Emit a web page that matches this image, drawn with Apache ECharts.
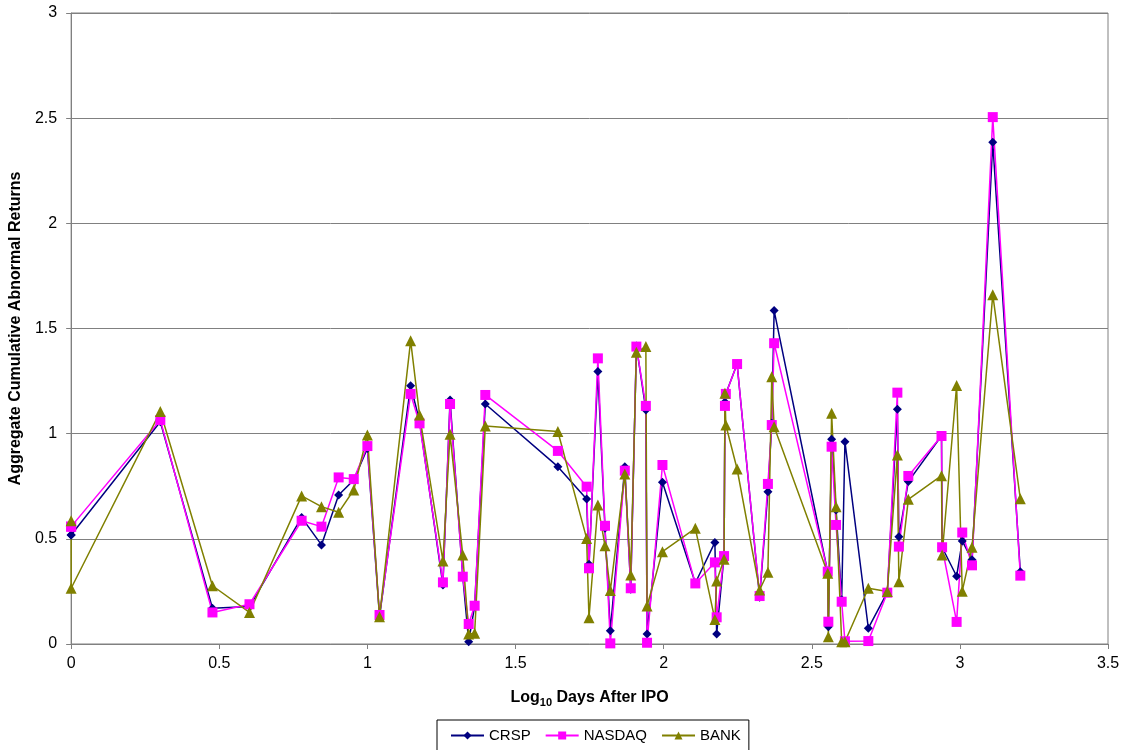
<!DOCTYPE html>
<html>
<head>
<meta charset="utf-8">
<script src="https://cdn.jsdelivr.net/npm/echarts@6/dist/echarts.min.js"></script>
<style>
html,body{margin:0;padding:0;background:#fff;}
#chart{width:1129px;height:750px;}
</style>
</head>
<body>
<div id="chart"></div>
<script>
// Log10 days after IPO (shared x positions)
const logDays = [0, 0, 0.301, 0.477, 0.602, 0.778, 0.845, 0.903, 0.954, 1, 1.041, 1.146, 1.176, 1.255, 1.279, 1.322, 1.342, 1.362, 1.398,
  1.643, 1.740, 1.748, 1.778, 1.802, 1.820, 1.869, 1.889, 1.908, 1.940, 1.944, 1.996, 2.107, 2.173, 2.179, 2.204, 2.207, 2.210, 2.248,
  2.324, 2.352, 2.365, 2.373, 2.554, 2.556, 2.567, 2.582, 2.601, 2.612, 2.691, 2.755, 2.789, 2.794, 2.826, 2.938, 2.940, 2.989, 3.008,
  3.041, 3.111, 3.204];
const crsp = [0.518, 0.518, 1.057, 0.17, 0.178, 0.602, 0.471, 0.708, 0.78, 0.93, 0.13, 1.228, 1.06, 0.28, 1.16, 0.32, 0.011, 0.18, 1.141,
  0.843, 0.689, 0.379, 1.295, 0.55, 0.063, 0.843, 0.26, 1.417, 1.113, 0.048, 0.769, 0.29, 0.483, 0.048, 0.42, 1.15, 1.19, 1.331,
  0.222, 0.724, 1.05, 1.585, 0.34, 0.082, 0.973, 0.637, 0.21, 0.962, 0.075, 0.245, 1.116, 0.51, 0.772, 0.99, 0.46, 0.322, 0.49,
  0.40, 2.385, 0.344];
const nasdaq = [0.558, 0.558, 1.065, 0.15, 0.189, 0.586, 0.558, 0.792, 0.784, 0.941, 0.138, 1.189, 1.049, 0.293, 1.141, 0.32, 0.095, 0.182, 1.184,
  0.918, 0.748, 0.36, 1.358, 0.562, 0.003, 0.824, 0.265, 1.414, 1.132, 0.006, 0.851, 0.288, 0.388, 0.127, 0.418, 1.132, 1.189, 1.331,
  0.228, 0.761, 1.041, 1.43, 0.344, 0.106, 0.938, 0.566, 0.201, 0.013, 0.014, 0.244, 1.195, 0.463, 0.799, 0.989, 0.46, 0.105, 0.53,
  0.374, 2.505, 0.325];
const bank = [0.586, 0.265, 1.105, 0.277, 0.15, 0.704, 0.653, 0.626, 0.732, 0.994, 0.13, 1.442, 1.089, 0.395, 0.997, 0.423, 0.048, 0.051, 1.036,
  1.01, 0.502, 0.125, 0.661, 0.467, 0.254, 0.808, 0.328, 1.387, 1.414, 0.181, 0.439, 0.55, 0.117, 0.30, 0.403, 1.192, 1.041, 0.832,
  0.257, 0.341, 1.271, 1.033, 0.336, 0.035, 1.097, 0.653, 0.011, 0.011, 0.265, 0.25, 0.899, 0.296, 0.688, 0.80, 0.423, 1.229, 0.251,
  0.46, 1.661, 0.69];
const seriesNames = ['CRSP', 'NASDAQ', 'BANK'];
const xTicks = ['0', '0.5', '1', '1.5', '2', '2.5', '3', '3.5'];

const pairs = vals => logDays.map((x, i) => [x, vals[i]]);
const FONT = '"Liberation Sans", Arial, sans-serif';

const chart = echarts.init(document.getElementById('chart'));
chart.setOption({
  animation: false,
  backgroundColor: '#ffffff',
  textStyle: {fontFamily: FONT},
  grid: {left: 71, right: 21, top: 13, bottom: 106, show: true, borderColor: '#808080', borderWidth: 1, backgroundColor: 'transparent'},
  legend: {
    data: seriesNames,
    left: 437, top: 720,
    padding: [8, 8, 10, 13],
    borderColor: '#000', borderWidth: 1,
    itemWidth: 33, itemHeight: 10, itemGap: 14,
    textStyle: {fontSize: 15, color: '#000', fontFamily: FONT}
  },
  xAxis: {
    type: 'value', min: 0, max: 3.5, interval: 0.5,
    name: '{a|Log}{s|10}{a| Days After IPO}',
    nameLocation: 'middle', nameGap: 44,
    nameTextStyle: {
      rich: {
        a: {fontSize: 16, fontWeight: 'bold', color: '#000', fontFamily: FONT, lineHeight: 20},
        s: {fontSize: 11, fontWeight: 'bold', color: '#000', fontFamily: FONT, verticalAlign: 'bottom', lineHeight: 11}
      }
    },
    axisLine: {show: true, lineStyle: {color: '#808080'}},
    axisTick: {show: true, length: 5, lineStyle: {color: '#808080'}},
    axisLabel: {color: '#000', fontSize: 16, margin: 12, formatter: (v) => xTicks[Math.round(v / 0.5)]},
    splitLine: {show: false}
  },
  yAxis: {
    type: 'value', min: 0, max: 3, interval: 0.5,
    name: 'Aggregate Cumulative Abnormal Returns',
    nameLocation: 'middle', nameGap: 44,
    nameTextStyle: {fontSize: 16, fontWeight: 'bold', color: '#000', fontFamily: FONT},
    axisLine: {show: true, lineStyle: {color: '#808080'}},
    axisTick: {show: true, length: 5, lineStyle: {color: '#808080'}},
    axisLabel: {color: '#000', fontSize: 16, margin: 14},
    splitLine: {show: true, lineStyle: {color: '#808080', width: 1}}
  },
  series: [
    {name: 'CRSP', type: 'line', data: pairs(crsp), symbol: 'diamond', symbolSize: 9,
      color: '#000080', lineStyle: {width: 1.5, color: '#000080'}, itemStyle: {color: '#000080'}},
    {name: 'NASDAQ', type: 'line', data: pairs(nasdaq), symbol: 'rect', symbolSize: 10,
      color: '#ff00ff', lineStyle: {width: 1.5, color: '#ff00ff'}, itemStyle: {color: '#ff00ff'}},
    {name: 'BANK', type: 'line', data: pairs(bank), symbol: 'triangle', symbolSize: 11,
      color: '#808000', lineStyle: {width: 1.5, color: '#808000'}, itemStyle: {color: '#808000'}}
  ]
});
</script>
</body>
</html>
